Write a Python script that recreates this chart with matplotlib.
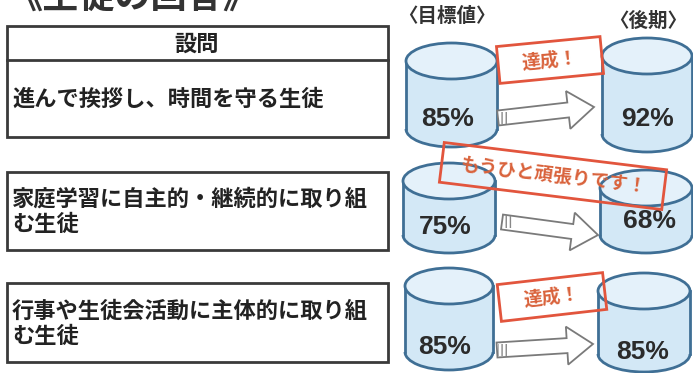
import matplotlib
matplotlib.use("Agg")
import matplotlib.pyplot as plt
from matplotlib.patches import Rectangle, Ellipse, Arc, FancyArrow

plt.rcParams['font.family'] = ['Noto Sans CJK JP', 'DejaVu Sans']

# ---- data ----
title = "《生徒の回答》"
header = "設問"
col_target = "〈目標値〉"
col_latter = "〈後期〉"
questions = ["進んで挨拶し、時間を守る生徒",
             "家庭学習に自主的・継続的に取り組\nむ生徒",
             "行事や生徒会活動に主体的に取り組\nむ生徒"]
target_values = [85, 75, 85]
latter_values = [92, 68, 85]
badges = ["達成！", "もうひと頑張りです！", "達成！"]

# ---- layout (pixels) ----
W, H = 693, 373
fig = plt.figure(figsize=(W / 100, H / 100), dpi=100)
ax = fig.add_axes([0, 0, 1, 1])
ax.set_xlim(0, W)
ax.set_ylim(H, 0)
ax.axis('off')

box_col = '#3a3a3a'
cyl_edge = '#3f6f95'
cyl_body = '#d3e8f6'
cyl_top = '#e4f1fa'
badge_edge = '#e2553d'
badge_text = '#d9623b'

# title (top clipped by figure edge, as in the reference)
ax.text(6, 9, title, fontsize=26, fontweight='bold', color='#333333',
        ha='left', va='baseline')

# question boxes
boxes = [(7, 26, 388, 137), (7, 172, 388, 250), (7, 283, 388, 362)]
for (x0, y0, x1, y1) in boxes:
    ax.add_patch(Rectangle((x0, y0), x1 - x0, y1 - y0, fill=False,
                           ec=box_col, lw=2.0))
ax.plot([7, 388], [60, 60], color=box_col, lw=2.0)
ax.text(197, 44, header, fontsize=16, fontweight='bold', color='#222222',
        ha='center', va='center')
q_text_y = [99, 212, 324]
for q, y in zip(questions, q_text_y):
    ax.text(12, y, q, fontsize=16, fontweight='bold', color='#222222',
            ha='left', va='center', linespacing=1.1)

# column headers
ax.text(447, 16, col_target, fontsize=14, fontweight='bold', color='#333333',
        ha='center', va='center')
ax.text(648, 21, col_latter, fontsize=14, fontweight='bold', color='#333333',
        ha='center', va='center')


def cylinder(x0, x1, yt, yb, h=36):
    w = x1 - x0
    xc = (x0 + x1) / 2
    ax.add_patch(Ellipse((xc, yb), w, h, fc=cyl_body, ec='none', zorder=2))
    ax.add_patch(Rectangle((x0, yt), w, yb - yt, fc=cyl_body, ec='none', zorder=2))
    ax.add_patch(Arc((xc, yb), w, h, theta1=0, theta2=180, color=cyl_edge,
                     lw=2.0, zorder=3))
    ax.plot([x0, x0], [yt, yb], color=cyl_edge, lw=2.0, zorder=3)
    ax.plot([x1, x1], [yt, yb], color=cyl_edge, lw=2.0, zorder=3)
    ax.add_patch(Ellipse((xc, yt), w, h, fc=cyl_top, ec=cyl_edge, lw=2.0,
                         zorder=3))


left_cyl = [(406, 497, 61, 129), (403, 495, 181, 235), (405, 493, 286, 352)]
right_cyl = [(602, 692, 56, 134), (600, 692, 188, 235), (598, 690, 291, 354)]
left_txt = [(448, 119), (445, 227), (445, 347)]
right_txt = [(647, 119), (650, 221), (643, 352)]
arrows = [((498, 118), (594, 107)), ((502, 222), (598, 235)),
          ((497, 350), (593, 344))]
badge_boxes = [((550, 60), 104, 37, -5.5), ((553, 176), 224, 40, 7.0),
               ((552, 297), 106, 37, -6.5)]
badge_fs = [13.5, 13.5, 13.5]

pct_font = ['Liberation Sans', 'DejaVu Sans']

for i in range(3):
    cylinder(*left_cyl[i])
    cylinder(*right_cyl[i])
    ax.text(*left_txt[i], f"{target_values[i]}%", fontsize=19,
            fontweight='bold', family=pct_font,
            color='#2b2b2b', ha='center', va='center', zorder=5)
    ax.text(*right_txt[i], f"{latter_values[i]}%", fontsize=19,
            fontweight='bold', family=pct_font,
            color='#2b2b2b', ha='center', va='center', zorder=5)
    (ax0, ay0), (ax1, ay1) = arrows[i]
    ax.add_patch(FancyArrow(ax0, ay0, ax1 - ax0, ay1 - ay0, width=15,
                            head_width=38, head_length=26,
                            length_includes_head=True, fc='white',
                            ec='#7a7a7a', lw=1.3, zorder=4))
    # striped tail
    ax.add_patch(Rectangle((ax0 + 1, ay0 - 6), 9, 12, fc='none', ec='#888888',
                           hatch='||||', lw=0, zorder=4))
    (cx, cy), bw, bh, ang = badge_boxes[i]
    ax.add_patch(Rectangle((cx - bw / 2, cy - bh / 2), bw, bh, angle=ang,
                           rotation_point='center', fill=False,
                           ec=badge_edge, lw=2.0, zorder=6))
    ax.text(cx, cy, badges[i], fontsize=badge_fs[i], fontweight='bold',
            color=badge_text, ha='center', va='center', rotation=-ang,
            rotation_mode='anchor', zorder=7)

fig.savefig("out.png", dpi=100)
